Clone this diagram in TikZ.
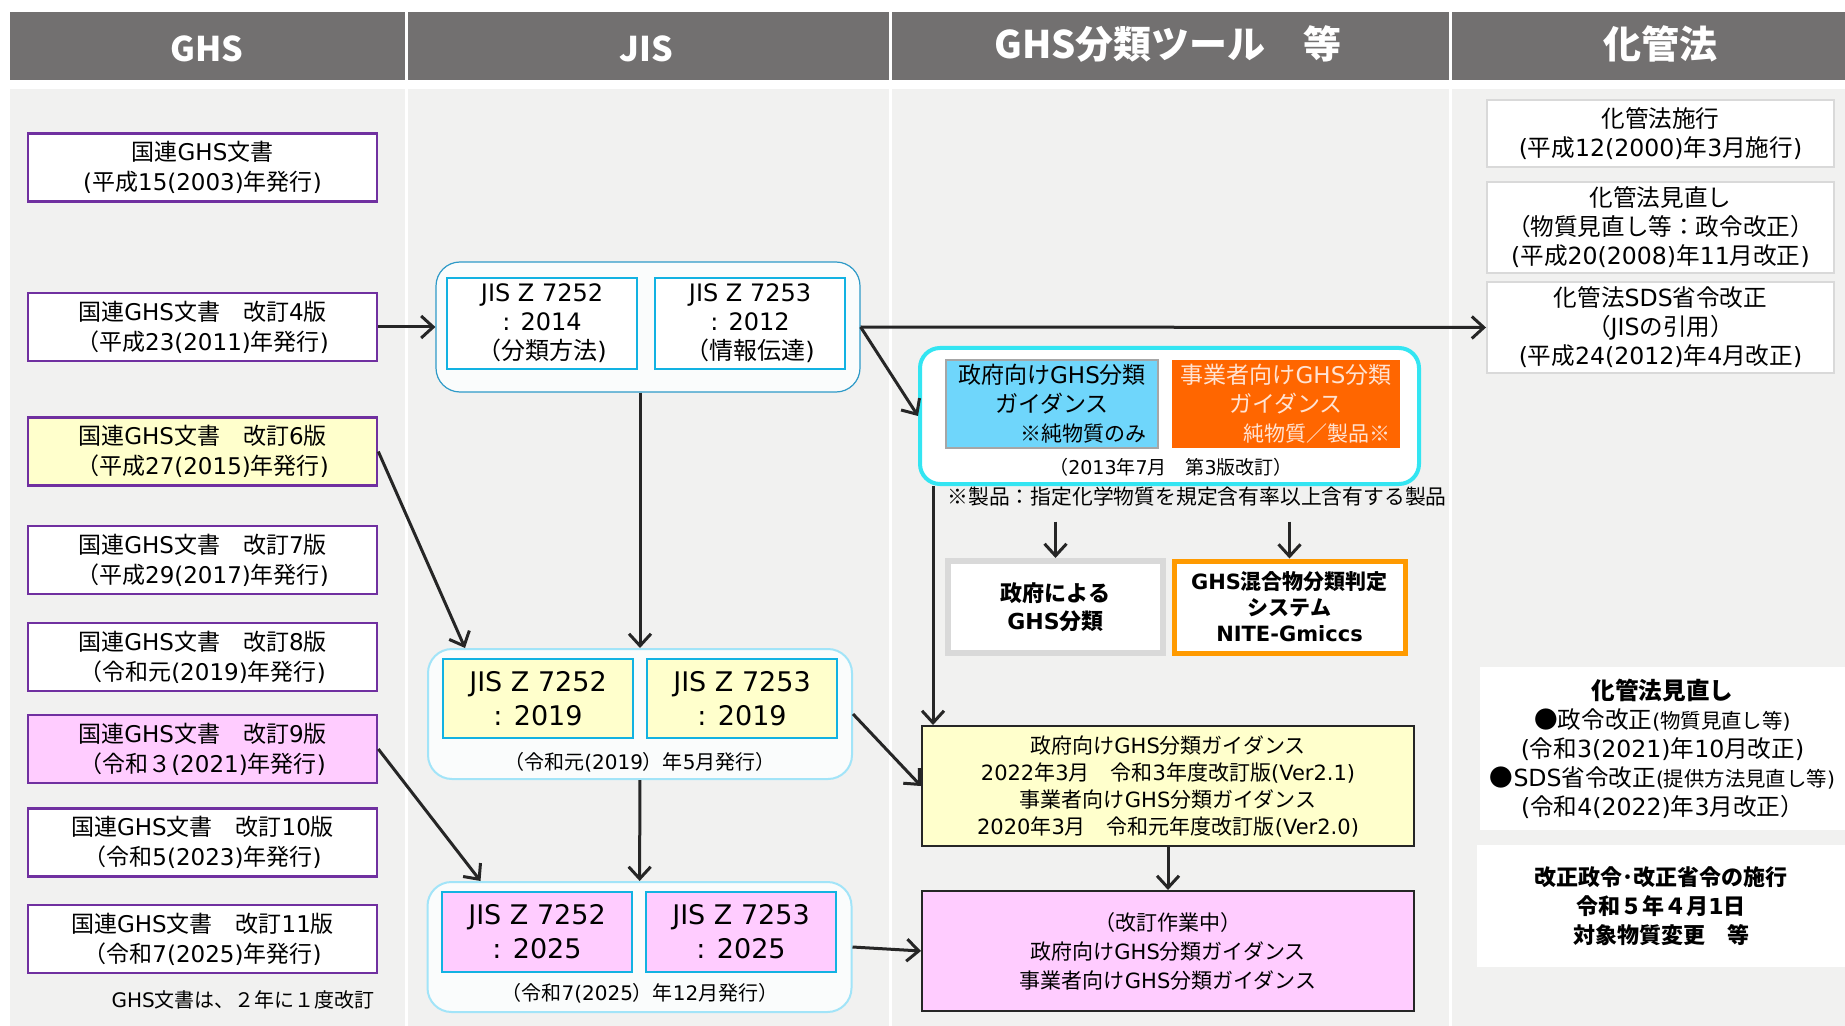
\documentclass[tikz,border=0pt]{standalone}
\usepackage{fontspec}
\setmainfont{DejaVu Sans}
\newfontfamily\latfont{DejaVu Sans}
\newfontfamily\cjkfont{Noto Sans CJK JP}
\usetikzlibrary{arrows.meta}
% CJK characters in Noto, the rest in DejaVu
\XeTeXinterchartokenstate=1
\newXeTeXintercharclass\cjkclass
\count255="3000
\loop\XeTeXcharclass\count255=\cjkclass\ifnum\count255<"9FFF\advance\count255 by 1\repeat
\count255="FF00
\loop\XeTeXcharclass\count255=\cjkclass\ifnum\count255<"FFEF\advance\count255 by 1\repeat
\XeTeXcharclass"203B=\cjkclass
\XeTeXcharclass"25CF=\cjkclass
\XeTeXinterchartoks 0 \cjkclass={\cjkfont}
\XeTeXinterchartoks 4095 \cjkclass={\cjkfont}
\XeTeXinterchartoks \cjkclass 0={\latfont}
\XeTeXinterchartoks \cjkclass 4095={\latfont}
\newcommand\hdrfont{\XeTeXinterchartokenstate=0 \cjkfont\bfseries}
\definecolor{hdrgray}{HTML}{727070}
\definecolor{bodygray}{HTML}{F1F1F0}
\definecolor{ghspurple}{HTML}{7030A0}
\definecolor{ghsyellow}{HTML}{FFFFCC}
\definecolor{ghspink}{HTML}{FFCCFF}
\definecolor{jiscyan}{HTML}{12B2E2}
\definecolor{grpline14}{HTML}{2E9AC8}
\definecolor{grpline19}{HTML}{A2E4F8}
\definecolor{grpfill}{HTML}{FAFCFC}
\definecolor{toolcyan}{HTML}{33E5F2}
\definecolor{guideblue}{HTML}{6FD6FB}
\definecolor{bluegray}{HTML}{A6A6A6}
\definecolor{guideorange}{HTML}{FF6600}
\definecolor{orangetext}{HTML}{FFE3D3}
\definecolor{kkgray}{HTML}{D9D9D9}
\definecolor{niteorange}{HTML}{FF9A00}
\definecolor{arrgray}{HTML}{262626}

\begin{document}
\begin{tikzpicture}[x=0.5pt,y=-0.5pt,
    hdr/.style={text=white,font=\hdrfont\fontsize{17}{20}\selectfont},
    ghsbox/.style={draw=ghspurple,line width=1.3pt,fill=white,minimum width=174.5pt,
      minimum height=34pt,inner sep=0pt,align=center,font=\fontsize{11.5}{15}\selectfont},
    jisgrp/.style={rounded corners=12pt,fill=grpfill,minimum width=212pt,minimum height=65pt},
    jisbox/.style={draw=jiscyan,line width=1.4pt,minimum width=95pt,inner sep=0pt,align=center},
    kkbox/.style={draw=kkgray,line width=1pt,fill=white,minimum width=173.5pt,inner sep=0pt,
      align=center,font=\fontsize{11.8}{14.5}\selectfont},
    gdbox/.style={draw=arrgray,line width=1pt,minimum width=246pt,minimum height=60pt,
      inner sep=0pt,align=center,font=\fontsize{10.5}{13.5}\selectfont},
    arr/.style={draw=arrgray,line width=1.5pt,-{Straight Barb[length=6pt,width=11pt]}}]
  \useasboundingbox (0,0) rectangle (1845,1026);
  % columns
  \fill[hdrgray] (10,12) rectangle (1845,80);
  \fill[bodygray] (10,89) rectangle (1845,1026);
  \foreach \x in {406,890,1450}
    \draw[white,line width=1.5pt] (\x,12) -- (\x,1026);
  \node[hdr] (hghs) at (207,49) {GHS};
  \node[hdr] (hjis) at (646,49) {JIS};
  \node[hdr,font=\hdrfont\fontsize{19}{22}\selectfont] (htool) at (1168,44) {GHS分類ツール　等};
  \node[hdr,font=\hdrfont\fontsize{19}{22}\selectfont] (hkk) at (1660,44) {化管法};

  % GHS
  \node[ghsbox] (g1) at (202.5,167.5) {国連GHS文書\\(平成15(2003)年発行)};
  \node[ghsbox] (g2) at (202.5,327) {国連GHS文書　改訂4版\\（平成23(2011)年発行)};
  \node[ghsbox,fill=ghsyellow] (g3) at (202.5,451.5) {国連GHS文書　改訂6版\\（平成27(2015)年発行)};
  \node[ghsbox] (g4) at (202.5,560) {国連GHS文書　改訂7版\\（平成29(2017)年発行)};
  \node[ghsbox] (g5) at (202.5,657) {国連GHS文書　改訂8版\\（令和元(2019)年発行)};
  \node[ghsbox,fill=ghspink] (g6) at (202.5,749) {国連GHS文書　改訂9版\\（令和３(2021)年発行)};
  \node[ghsbox] (g7) at (202.5,842.5) {国連GHS文書　改訂10版\\（令和5(2023)年発行)};
  \node[ghsbox] (g8) at (202.5,939) {国連GHS文書　改訂11版\\（令和7(2025)年発行)};
  \node[anchor=east,font=\fontsize{10}{12}\selectfont] (gnote) at (382,1000) {GHS文書は、２年に１度改訂};

  % JIS
  \node[jisgrp,draw=grpline14,line width=0.6pt] (jis14) at (648,327) {};
  \node[jisbox,fill=white,minimum height=45.5pt,font=\fontsize{12}{14.5}\selectfont]
    (z52a) at (542,323.5) {JIS Z 7252\\: 2014\\（分類方法)};
  \node[jisbox,fill=white,minimum height=45.5pt,font=\fontsize{12}{14.5}\selectfont]
    (z53a) at (750,323.5) {JIS Z 7253\\: 2012\\（情報伝達)};
  \node[jisgrp,draw=grpline19,line width=1pt] (jis19) at (640,714) {};
  \node[jisbox,fill=ghsyellow,minimum height=39.5pt,font=\fontsize{13.5}{17}\selectfont]
    (z52b) at (538,698.5) {JIS Z 7252\\: 2019};
  \node[jisbox,fill=ghsyellow,minimum height=39.5pt,font=\fontsize{13.5}{17}\selectfont]
    (z53b) at (742,698.5) {JIS Z 7253\\: 2019};
  \node[font=\fontsize{10}{12}\selectfont] (c19) at (640,762) {（令和元(2019）年5月発行）};
  \node[jisgrp,draw=grpline19,line width=1pt] (jis25) at (639.5,947) {};
  \node[jisbox,fill=ghspink,minimum height=40pt,font=\fontsize{13.5}{17}\selectfont]
    (z52c) at (537,932) {JIS Z 7252\\: 2025};
  \node[jisbox,fill=ghspink,minimum height=40pt,font=\fontsize{13.5}{17}\selectfont]
    (z53c) at (741,932) {JIS Z 7253\\: 2025};
  \node[font=\fontsize{10}{12}\selectfont] (c25) at (640,993) {（令和7(2025）年12月発行）};

  % GHS tools
  \node[draw=toolcyan,line width=2pt,rounded corners=10pt,fill=white,
    minimum width=249.5pt,minimum height=68pt] (tool) at (1169.5,416) {};
  \node[draw=bluegray,line width=0.8pt,fill=guideblue,minimum width=106pt,minimum height=44pt,
    inner sep=0pt,align=center,font=\fontsize{11.5}{14.5}\selectfont] (gvg) at (1052,404)
    {政府向けGHS分類\\ガイダンス\\\makebox[94pt][r]{\fontsize{10.5}{12}\selectfont ※純物質のみ}};
  \node[fill=guideorange,text=orangetext,minimum width=114pt,minimum height=44pt,
    inner sep=0pt,align=center,font=\fontsize{11.5}{14.5}\selectfont] (bzg) at (1286,404)
    {事業者向けGHS分類\\ガイダンス\\\makebox[104pt][r]{\fontsize{10.5}{12}\selectfont 純物質／製品※}};
  \node[font=\fontsize{9.5}{12}\selectfont] (ed3) at (1171,467) {（2013年7月　第3版改訂）};
  \node[font=\fontsize{10.4}{12}\selectfont] (prodnote) at (1197,497)
    {※製品：指定化学物質を規定含有率以上含有する製品};
  \node[draw=kkgray,line width=3pt,fill=white,minimum width=107.5pt,minimum height=46pt,
    inner sep=0pt,align=center,font=\bfseries\fontsize{11}{14}\selectfont] (govcls) at (1055.5,607)
    {政府による\\GHS分類};
  \node[draw=niteorange,line width=2.5pt,fill=white,minimum width=115.5pt,minimum height=46pt,
    inner sep=0pt,align=center,font=\bfseries\fontsize{10.5}{13}\selectfont] (nite) at (1289.5,607)
    {GHS混合物分類判定\\システム\\NITE-Gmiccs};
  \node[gdbox,fill=ghsyellow] (guid) at (1168,786)
    {政府向けGHS分類ガイダンス\\2022年3月　令和3年度改訂版(Ver2.1)\\事業者向けGHS分類ガイダンス\\2020年3月　令和元年度改訂版(Ver2.0)};
  \node[gdbox,fill=ghspink,font=\fontsize{10.5}{14.5}\selectfont] (pink) at (1168,951)
    {（改訂作業中）\\政府向けGHS分類ガイダンス\\事業者向けGHS分類ガイダンス};

  % 化管法
  \node[kkbox,minimum height=33.5pt] (kk1) at (1660.5,133.5) {化管法施行\\(平成12(2000)年3月施行)};
  \node[kkbox,minimum height=45.5pt] (kk2) at (1660.5,227.5)
    {化管法見直し\\（物質見直し等：政令改正）\\(平成20(2008)年11月改正)};
  \node[kkbox,minimum height=45.5pt] (kk3) at (1660.5,327.5)
    {化管法SDS省令改正\\（JISの引用）\\(平成24(2012)年4月改正)};
  \node[fill=white,minimum width=182.5pt,minimum height=81.5pt,inner sep=0pt,align=center,
    font=\fontsize{11.8}{14.5}\selectfont] (kk4) at (1662.5,748.5)
    {\textbf{化管法見直し}\\●政令改正{\fontsize{10.2}{12}\selectfont(物質見直し等)}\\(令和3(2021)年10月改正)\\●SDS省令改正{\fontsize{10.2}{12}\selectfont(提供方法見直し等)}\\(令和4(2022)年3月改正）};
  \node[fill=white,minimum width=184pt,minimum height=61pt,inner sep=0pt,align=center,
    font=\bfseries\fontsize{11}{14.5}\selectfont] (kk5) at (1661,906)
    {改正政令･改正省令の施行\\令和５年４月1日\\対象物質変更　等};

  % arrows
  \draw[arr] (g2) -- (jis14);
  \draw[arr] (jis14.east) -- (kk3.west);
  \draw[arr] (jis14.east) -- (tool.west);
  \draw[arr] (jis14.south -| jis19.north) -- (jis19.north);
  \draw[arr] (g3.east) -- ([xshift=19pt]jis19.north west);
  \draw[arr] (jis19) -- (jis25);
  \draw[arr] (g6.east) -- ([xshift=27pt]jis25.north west);
  \draw[arr] (jis19.east) -- (guid.west);
  \draw[arr] (jis25.east) -- (pink.west);
  \draw[arr,shorten <=4pt] (govcls.north |- prodnote.south) -- (govcls.north);
  \draw[arr,shorten <=4pt] (nite.north |- prodnote.south) -- (nite.north);
  \draw[arr] ([xshift=7.5pt]tool.south west) -- ([xshift=7.5pt]tool.south west |- guid.north);
  \draw[arr] (guid) -- (pink);
\end{tikzpicture}
\end{document}
